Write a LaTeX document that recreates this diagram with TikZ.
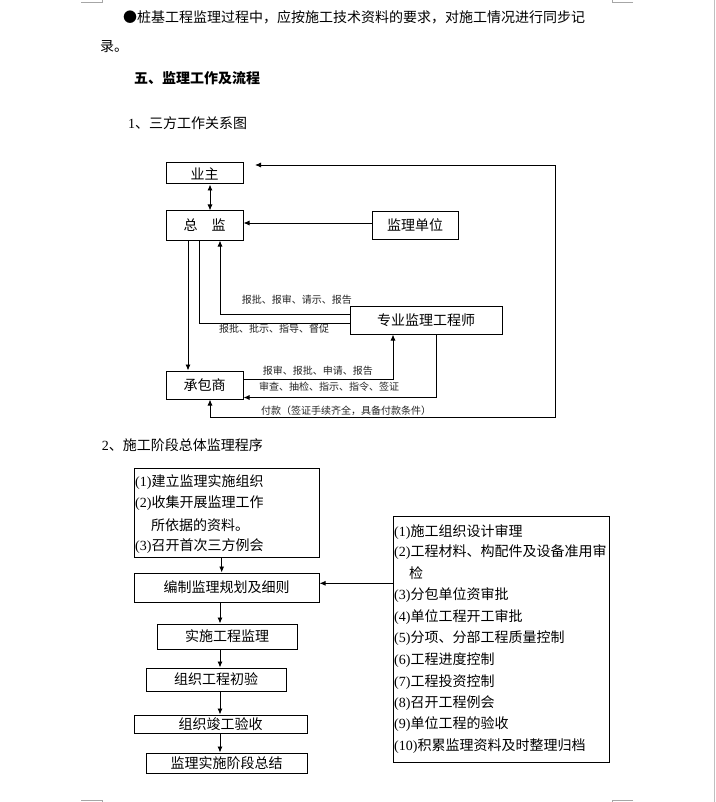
\documentclass[tikz,border=0pt]{standalone}
\usepackage{fontspec}
\setmainfont{Noto Sans CJK SC}
\newfontfamily\dg{Liberation Serif}
\usetikzlibrary{arrows.meta}
\begin{document}
\begin{tikzpicture}[x=1pt,y=-1pt,
  every node/.style={inner sep=0pt, font=\fontsize{14}{16}\selectfont},
  box/.style={draw, line width=1pt},
  ln/.style={line width=0.9pt},
  arr/.style={ln, -{Latex[length=6pt,width=5pt]}},
  dbl/.style={ln, {Latex[length=6pt,width=5pt]}-{Latex[length=6pt,width=5pt]}},
  lbl/.style={anchor=west, font=\fontsize{10}{12}\selectfont, text=black!85},
  txt/.style={anchor=west},
  cropmk/.style={draw=black!35, line width=0.8pt}
]
\useasboundingbox (0,0) rectangle (715,802);
\fill[white] (0,0) rectangle (715,802);

% page corner marks
\draw[cropmk] (81,2.5) -- (102,2.5) -- (102,0);
\draw[cropmk] (633,2.5) -- (612,2.5) -- (612,0);
\draw[cropmk] (81,800) -- (102,800) -- (102,802);
\draw[cropmk] (633,800) -- (612,800) -- (612,802);
\draw[draw=black!25, line width=0.8pt] (714.5,0) -- (714.5,802);

% body text
\node[txt] (t1) at (123,17) {●桩基工程监理过程中，应按施工技术资料的要求，对施工情况进行同步记};
\node[txt] (t2) at (100,47) {录。};
\node[txt, font=\fontsize{14}{16}\selectfont\bfseries] (t3) at (134,78) {五、监理工作及流程};
\node[txt] (t4) at (128,123) {{\dg 1}、三方工作关系图};
\node[txt] (t5) at (101.7,445) {{\dg 2}、施工阶段总体监理程序};

% ---------- diagram 1 ----------
\node[box, minimum width=77pt, minimum height=21pt] (yz) at (204.5,173.5) {业主};
\node[box, minimum width=77pt, minimum height=29pt] (zj) at (204.5,225.5) {总\hspace{14pt}监};
\node[box, minimum width=86pt, minimum height=27pt] (jldw) at (415,225.5) {监理单位};
\node[box, minimum width=152pt, minimum height=28pt] (zy) at (426,320) {专业监理工程师};
\node[box, minimum width=77pt, minimum height=28pt] (cbs) at (204.5,385) {承包商};

\coordinate (c1) at (210,0);
\coordinate (c2) at (188,0);
\coordinate (c3) at (199,0);
\coordinate (c4) at (220,0);
\coordinate (c5) at (393,0);
\coordinate (c6) at (436,0);
\coordinate (h1) at (0,314.5);
\coordinate (h2) at (0,323);
\coordinate (h3) at (0,379);
\coordinate (h4) at (0,397.5);
\coordinate (h5) at (0,223);
\coordinate (tipA) at (255,165);
\coordinate (r1) at (555,165);
\coordinate (r2) at (555,417.5);

\draw[dbl] (yz.south -| c1) -- (zj.north -| c1);
\draw[arr] (jldw.west |- h5) -- (zj.east |- h5);
\draw[arr] (zj.south -| c2) -- (cbs.north -| c2);
\draw[ln] (zj.south -| c3) -- (h2 -| c3) -- (zy.west |- h2);
\draw[arr] (zy.west |- h1) -- (h1 -| c4) -- (zj.south -| c4);
\draw[arr] (cbs.east |- h3) -- (h3 -| c5) -- (zy.south -| c5);
\draw[arr] (zy.south -| c6) -- (h4 -| c6) -- (cbs.east |- h4);
\draw[dbl] (tipA) -- (r1) -- (r2) -- (r2 -| c1) -- (cbs.south -| c1);

\node[lbl] (l1) at (241.7,300) {报批、报审、请示、报告};
\node[lbl] (l2) at (219,329) {报批、批示、指导、督促};
\node[lbl] (l3) at (262.7,370.7) {报审、报批、申请、报告};
\node[lbl] (l4) at (259,386.5) {审查、抽检、指示、指令、签证};
\node[lbl] (l5) at (261,411) {付款（签证手续齐全，具备付款条件）};

% ---------- diagram 2 ----------
\node[box, minimum width=185pt, minimum height=89pt] (b1) at (226.5,512.5) {};
\node[txt] (b1a) at (135,482) {{\dg (1)}建立监理实施组织};
\node[txt] (b1b) at (135,503.5) {{\dg (2)}收集开展监理工作};
\node[txt] (b1c) at (151,525) {所依据的资料。};
\node[txt] (b1d) at (135,546.5) {{\dg (3)}召开首次三方例会};

\node[box, minimum width=185pt, minimum height=29pt] (b2) at (226.5,587.5) {编制监理规划及细则};
\node[box, minimum width=140pt, minimum height=25pt] (b3) at (227,636.5) {实施工程监理};
\node[box, minimum width=140pt, minimum height=23pt] (b4) at (216,679.5) {组织工程初验};
\node[box, minimum width=173pt, minimum height=18pt] (b5) at (220.5,724) {组织竣工验收};
\node[box, minimum width=161pt, minimum height=20pt] (b6) at (226.5,763) {监理实施阶段总结};

\coordinate (c7) at (221.7,0);
\draw[arr] (b1.south -| c7) -- (b2.north -| c7);
\draw[arr] (b2.south -| c4) -- (b3.north -| c4);
\draw[arr] (b3.south -| c4) -- (b4.north -| c4);
\draw[arr] (b4.south -| c4) -- (b5.north -| c4);
\draw[arr] (b5.south -| c4) -- (b6.north -| c4);

\node[box, minimum width=216pt, minimum height=246pt] (rb) at (501,639) {};
\node[txt] (r01) at (394,531.7) {{\dg (1)}施工组织设计审理};
\node[txt] (r02) at (394,552) {{\dg (2)}工程材料、构配件及设备准用审};
\node[txt] (r02b) at (409,573.3) {检};
\node[txt] (r03) at (394,595.5) {{\dg (3)}分包单位资审批};
\node[txt] (r04) at (394,617.3) {{\dg (4)}单位工程开工审批};
\node[txt] (r05) at (394,638.5) {{\dg (5)}分项、分部工程质量控制};
\node[txt] (r06) at (394,660) {{\dg (6)}工程进度控制};
\node[txt] (r07) at (394,681.7) {{\dg (7)}工程投资控制};
\node[txt] (r08) at (394,703.3) {{\dg (8)}召开工程例会};
\node[txt] (r09) at (394,724.5) {{\dg (9)}单位工程的验收};
\node[txt] (r10) at (394,746) {{\dg (10)}积累监理资料及时整理归档};

\coordinate (h6) at (0,583.3);
\draw[arr] (rb.west |- h6) -- (b2.east |- h6);
\end{tikzpicture}
\end{document}
